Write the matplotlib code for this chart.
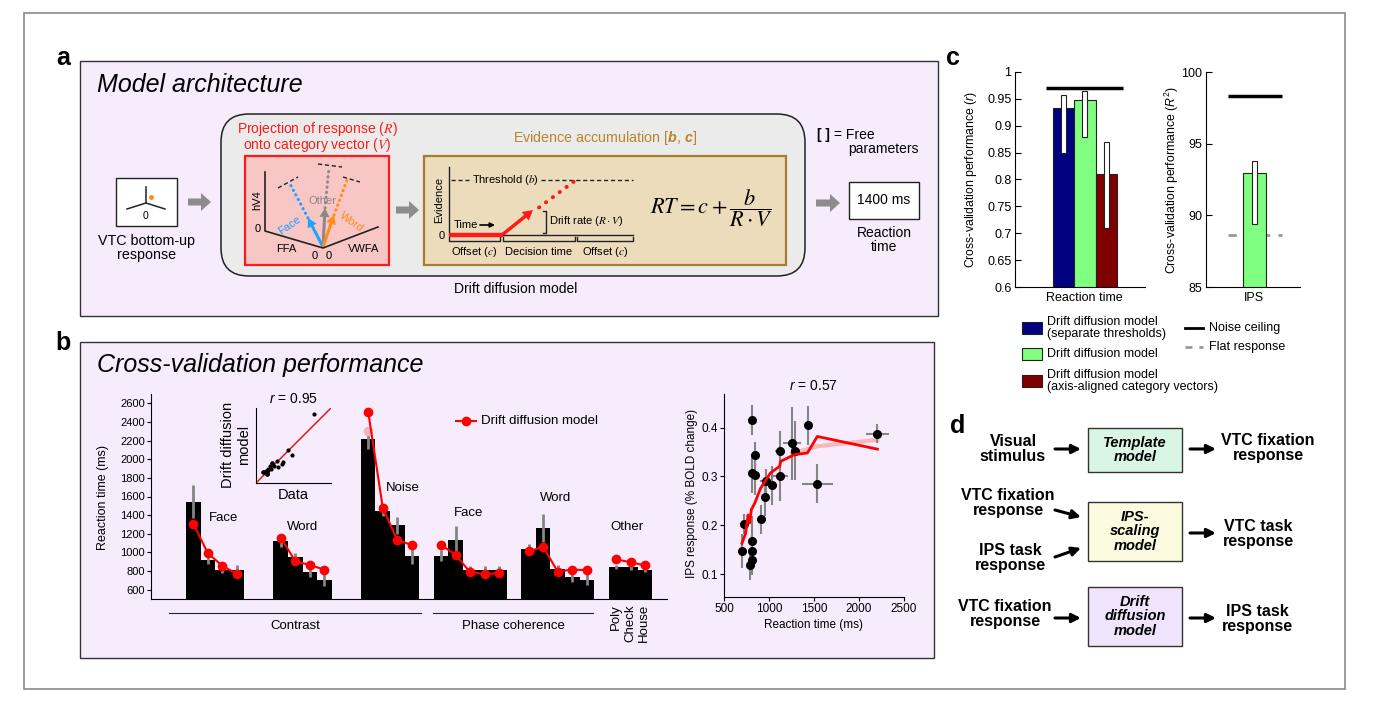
import matplotlib
matplotlib.use('Agg')
import matplotlib.pyplot as plt
from matplotlib.patches import FancyBboxPatch, Rectangle, FancyArrow
import numpy as np

plt.rcParams['font.family'] = ['Liberation Sans', 'DejaVu Sans']
plt.rcParams['mathtext.fontset'] = 'custom'
plt.rcParams['mathtext.rm'] = 'Liberation Sans'
plt.rcParams['mathtext.it'] = 'Liberation Sans:italic'
plt.rcParams['mathtext.bf'] = 'Liberation Sans:bold:italic'

# ---------------- data ----------------
rt_groups = ['Face', 'Word', 'Noise', 'Face', 'Word', 'Other']
rt_data = [[1545, 915, 815, 810], [1120, 950, 790, 705], [2215, 1440, 1290, 965],
           [965, 1135, 815, 810, 810], [1040, 1265, 820, 740, 705], [845, 840, 815]]
rt_err = [[175, 40, 40, 50], [60, 45, 50, 70], [110, 50, 90, 90],
          [60, 150, 35, 45, 45], [50, 150, 40, 60, 60], [20, 25, 30]]
rt_model = [[1310, 990, 855, 770], [1160, 905, 865, 815], [2510, 1480, 1130, 1080],
            [1080, 975, 785, 770, 775], [1010, 1060, 795, 815, 810], [925, 895, 860]]
noise_alt_model = [2300]
rt_ticks = [600, 800, 1000, 1200, 1400, 1600, 1800, 2000, 2200, 2400, 2600]
stim_labels = ['Poly', 'Check', 'House']

ips_rt = [700, 718, 785, 815, 815, 815, 811, 815, 841, 841, 915, 952, 963, 1037,
          1119, 1126, 1259, 1285, 1433, 1537, 2204]
ips_resp = [0.148, 0.203, 0.118, 0.129, 0.148, 0.168, 0.416, 0.307, 0.345, 0.303,
            0.212, 0.258, 0.290, 0.282, 0.353, 0.300, 0.368, 0.353, 0.405, 0.285, 0.388]
ips_rt_err = [20, 20, 15, 15, 15, 15, 15, 15, 15, 15, 20, 20, 60, 40,
              50, 90, 100, 30, 40, 170, 130]
ips_resp_err = [0.035, 0.02, 0.03, 0.03, 0.03, 0.05, 0.03, 0.04, 0.025, 0.04,
                0.03, 0.04, 0.025, 0.04, 0.04, 0.05, 0.075, 0.06, 0.04, 0.04, 0.02]
ddm_rt = [700, 741, 767, 785, 804, 841, 907, 1015, 1119, 1130, 1285, 1426, 1537, 2204]
ddm_ips = [0.163, 0.184, 0.221, 0.205, 0.232, 0.245, 0.276, 0.307, 0.321, 0.331,
           0.345, 0.348, 0.382, 0.356]
alt_rt = [1260, 1540, 2204]
alt_ips = [0.347, 0.362, 0.375]

perf_models = ['Drift diffusion model\n(separate thresholds)', 'Drift diffusion model',
               'Drift diffusion model\n(axis-aligned category vectors)']
perf_colors = ['#000080', '#80ff80', '#800000']
perf_r = [0.933, 0.9475, 0.810]
perf_r_lo = [0.850, 0.879, 0.709]
perf_r_hi = [0.958, 0.964, 0.870]
ceiling_r = 0.970
perf_ips = [92.97]
perf_ips_lo = [89.4]
perf_ips_hi = [93.8]
ceiling_ips = 98.3
flat_ips = 88.6

# ---------------- figure ----------------
W, H = 1388, 714
fig = plt.figure(figsize=(W / 100, H / 100), dpi=100)
cv = fig.add_axes([0, 0, 1, 1], zorder=0)
cv.set_xlim(0, W)
cv.set_ylim(H, 0)
cv.axis('off')

LAV = '#f6ecfc'


def ax_at(x0, y0, x1, y1):
    a = fig.add_axes([x0 / W, 1 - y1 / H, (x1 - x0) / W, (y1 - y0) / H], zorder=2)
    a.patch.set_alpha(0)
    return a


def T(x, y, s, **kw):
    kw.setdefault('ha', 'center')
    kw.setdefault('va', 'center')
    kw.setdefault('fontsize', 9)
    return cv.text(x, y, s, **kw)


def garrow(x0, x1, y):
    cv.add_patch(FancyArrow(x0, y, x1 - x0, 0, width=7, head_width=18, head_length=10,
                            length_includes_head=True, color='#8c8c8c', lw=0))


def barrow(p0, p1):
    cv.annotate('', xy=p1, xytext=p0,
                arrowprops=dict(arrowstyle='-|>', lw=2.2, color='black', mutation_scale=13,
                                shrinkA=0, shrinkB=0))


# outer frame
cv.add_patch(Rectangle((24, 13), 1321, 676, fill=False, ec='#8a8a8a', lw=1.2))

# ================= panel a =================
T(63, 58, 'a', fontsize=18, fontweight='bold')
cv.add_patch(Rectangle((80, 61), 858, 255, fc=LAV, ec='#333333', lw=1))
T(97, 85, 'Model architecture', ha='left', fontsize=18, style='italic')

# VTC icon
cv.add_patch(Rectangle((116, 178), 61, 48, fc='white', ec='#222222', lw=1))
cv.plot([146, 146], [187, 203], color='#222222', lw=1.1)
cv.plot([127, 146, 165], [209, 203, 209], color='#222222', lw=1.1)
cv.plot([151], [197], 'o', color='#ff8c1a', ms=2.5)
T(146, 216, '0', fontsize=7.5)
T(147, 241, 'VTC bottom-up', fontsize=10.3)
T(147, 255, 'response', fontsize=10.3)
garrow(188, 211, 202)

# rounded gray box
cv.add_patch(FancyBboxPatch((221, 114), 584, 162, boxstyle='round,pad=0,rounding_size=28',
                            fc='#ebebeb', ec='#222222', lw=1.1))
T(516, 289, 'Drift diffusion model', fontsize=10)

# projection box
T(317, 129, r'Projection of response ($R$)', color='#ff1a1a', fontsize=10, math_fontfamily='stix')
T(317, 145, r'onto category vector ($V$)', color='#ff1a1a', fontsize=10, math_fontfamily='stix')
cv.add_patch(Rectangle((245, 156), 144, 109, fc='#f9c6c6', ec='#ff1a1a', lw=1.6))
cv.plot([265, 265, 323, 378], [172, 231, 248, 227], color='#222222', lw=1.2)
T(257, 200, 'hV4', rotation=90, fontsize=8)
T(258, 229, '0', fontsize=8)
T(286, 249, 'FFA', fontsize=8)
T(315, 256, '0', fontsize=8)
T(329, 256, '0', fontsize=8)
T(364, 249, 'VWFA', fontsize=8)
O = (323, 247)
vec = [((308, 218), (289, 182), '#1aa3ff', [(278, 188), (298, 177)]),
       ((325, 208), (329, 167), '#8a8a8a', [(318, 164), (342, 167)]),
       ((334, 215), (347, 180), '#ff8c1a', [(343, 177), (360, 182)])]
for tip, far, col, dash in vec:
    cv.plot([tip[0], far[0]], [tip[1], far[1]], color=col, lw=2.2, ls=(0, (0.1, 1.6)),
            dash_capstyle='round')
    cv.plot([dash[0][0], dash[1][0]], [dash[0][1], dash[1][1]], color='#222222', lw=1, ls=(0, (3, 2)))
T(323, 201, 'Other', color='#8a8a8a', fontsize=8)
for tip, far, col, dash in vec:
    cv.add_patch(FancyArrow(O[0], O[1], tip[0] - O[0], tip[1] - O[1], width=3, head_width=10,
                            head_length=9, length_includes_head=True, color=col, lw=0))
T(290, 225, 'Face', color='#1aa3ff', fontsize=8, rotation=35)
T(352, 222, 'Word', color='#ff8c1a', fontsize=8, rotation=-35)

garrow(396, 419, 210)

# evidence box
T(605, 138, r'Evidence accumulation [$\mathbf{b}$, $\mathbf{c}$]', color='#b5872a', fontsize=10.3)
cv.add_patch(Rectangle((424, 156), 362, 109, fc='#ecdcbc', ec='#a67c2e', lw=1.6))
cv.plot([449, 449, 633], [167, 235, 235], color='#222222', lw=1)
cv.plot([451, 469], [180, 180], color='#222222', lw=1, ls=(0, (3, 2)))
cv.plot([541, 633], [180, 180], color='#222222', lw=1, ls=(0, (3, 2)))
T(505, 180, r'Threshold ($b$)', fontsize=8, math_fontfamily='stix')
T(439, 200, 'Evidence', rotation=90, fontsize=8)
T(442, 236, '0', fontsize=8)
T(466, 225, 'Time', fontsize=8)
cv.annotate('', xy=(495, 225), xytext=(480, 225),
            arrowprops=dict(arrowstyle='-|>', lw=1.2, color='black', mutation_scale=7,
                            shrinkA=0, shrinkB=0))
cv.plot([539, 576], [207.5, 180], color='#ff1a1a', lw=2.8, ls=(0, (0.1, 2.1)),
        dash_capstyle='round')
cv.plot([449, 503], [235, 235], color='#ff1a1a', lw=3.2, solid_capstyle='butt')
cv.add_patch(FancyArrow(502, 235, 31, -25, width=3.5, head_width=11, head_length=10,
                        length_includes_head=True, color='#ff1a1a', lw=0))
cv.plot([543, 546, 546, 543], [211, 211, 233, 233], color='#222222', lw=1)
T(549, 221, r'Drift rate ($R\cdot V$)', ha='left', fontsize=8, math_fontfamily='stix')
for x0, x1, lab in [(449, 500, r'Offset ($c$)'), (503, 575, 'Decision time'), (577, 633, r'Offset ($c$)')]:
    cv.plot([x0, x0, x1, x1], [237, 240.5, 240.5, 237], color='#222222', lw=1)
    T((x0 + x1) / 2, 252, lab, fontsize=8, math_fontfamily='stix')
T(712, 208, r'$RT = c + \dfrac{b}{R\cdot V}$', fontsize=16, math_fontfamily='stix')

T(817, 135, '[ ]', ha='left', fontsize=10, fontweight='bold')
T(834, 135, '= Free', ha='left', fontsize=10)
T(848, 149, 'parameters', ha='left', fontsize=10)
garrow(816, 840, 203)
cv.add_patch(Rectangle((849, 182), 70, 37, fc='white', ec='#222222', lw=1))
T(884, 200, '1400 ms', fontsize=10)
T(884, 233, 'Reaction', fontsize=10)
T(884, 247, 'time', fontsize=10)

# ================= panel b =================
T(63, 343, 'b', fontsize=18, fontweight='bold')
cv.add_patch(Rectangle((80, 342), 854, 316, fc=LAV, ec='#333333', lw=1))
T(97, 365, 'Cross-validation performance', ha='left', fontsize=18, style='italic')

axb = ax_at(151, 394, 667, 599)
gaps = [0, 2, 2, 1, 1, 1]
start = 0
all_data, all_model = [], []
for gi, (vals, errs, mods) in enumerate(zip(rt_data, rt_err, rt_model)):
    start += gaps[gi]
    xs = start + np.arange(len(vals)) + 0.5
    axb.bar(xs, vals, width=1.0, color='black', zorder=2)
    axb.errorbar(xs, vals, yerr=errs, fmt='none', ecolor='#858585', elinewidth=2, capsize=0, zorder=3)
    if gi == 2:
        axb.plot(xs[:1], noise_alt_model, 'o', color='#f6b4b4', ms=6, zorder=3.5)
    axb.plot(xs, mods, '-o', color='#ff0000', lw=1.5, ms=6, zorder=4)
    start += len(vals)
    all_data += vals
    all_model += mods
axb.set_xlim(-2.4, 33)
axb.set_ylim(500, 2700)
axb.set_yticks(rt_ticks)
axb.tick_params(axis='y', labelsize=8, length=3, width=0.8, pad=1.5)
axb.tick_params(axis='x', bottom=False, labelbottom=False)
for s in ['top', 'right']:
    axb.spines[s].set_visible(False)
for s in ['left', 'bottom']:
    axb.spines[s].set_linewidth(0.8)
T(103, 497, 'Reaction time (ms)', rotation=90, fontsize=9)
for (x, y), lab in zip([(224, 518), (303, 527), (403, 488), (469, 513), (556, 498), (627, 527)], rt_groups):
    T(x, y, lab, fontsize=9.5)
cv.plot([456, 476], [421, 421], color='#ff0000', lw=1.5)
cv.plot([466], [421], 'o', color='#ff0000', ms=6)
T(481, 421, 'Drift diffusion model', ha='left', fontsize=9.5)

cv.plot([169, 421], [613, 613], color='#222222', lw=0.8)
T(295, 626, 'Contrast', fontsize=9.5)
cv.plot([433, 593], [613, 613], color='#222222', lw=0.8)
T(513, 626, 'Phase coherence', fontsize=9.5)
for x, lab in zip([616, 630, 644], stim_labels):
    T(x, 604, lab, rotation=90, va='top', fontsize=9.5)

# inset
axi = ax_at(256, 408, 331, 483)
axi.plot([500, 2700], [500, 2700], color='#ff0000', lw=1)
axi.plot(all_data, all_model, 'o', color='black', ms=2)
axi.set_xlim(500, 2700)
axi.set_ylim(500, 2700)
axi.set_xticks([])
axi.set_yticks([])
for s in ['top', 'right']:
    axi.spines[s].set_visible(False)
for s in ['left', 'bottom']:
    axi.spines[s].set_linewidth(0.8)
T(293, 399, r'$r$ = 0.95', fontsize=10)
T(228, 445, 'Drift diffusion', rotation=90, fontsize=10.5)
T(244, 445, 'model', rotation=90, fontsize=10.5)
T(293, 495, 'Data', fontsize=10.5)

# IPS scatter
axs = ax_at(724, 394, 904, 597)
axs.plot(alt_rt, alt_ips, color='#f8b8b8', lw=3, zorder=1)
axs.errorbar(ips_rt, ips_resp, xerr=ips_rt_err, yerr=ips_resp_err, fmt='o', color='black',
             ecolor='#858585', elinewidth=1.5, capsize=0, ms=5.5, zorder=2)
axs.plot(ddm_rt, ddm_ips, color='#ff0000', lw=2, zorder=3)
axs.set_xlim(500, 2500)
axs.set_ylim(0.053, 0.469)
axs.set_xticks([500, 1000, 1500, 2000, 2500])
axs.set_yticks([0.1, 0.2, 0.3, 0.4])
axs.tick_params(labelsize=8.5, length=3, width=0.8, pad=1.5)
for s in ['top', 'right']:
    axs.spines[s].set_visible(False)
for s in ['left', 'bottom']:
    axs.spines[s].set_linewidth(0.8)
T(813, 386, r'$r$ = 0.57', fontsize=10)
T(692, 493, 'IPS response (% BOLD change)', rotation=90, fontsize=8.5)
T(814, 625, 'Reaction time (ms)', fontsize=8.5)

# ================= panel c =================
T(953, 58, 'c', fontsize=18, fontweight='bold')
axc1 = ax_at(1015, 72, 1145, 287)
xs = np.arange(len(perf_r))
axc1.bar(xs, perf_r, width=1.0, color=perf_colors, edgecolor='#222222', lw=0.8, zorder=2)
axc1.bar(xs, np.array(perf_r_hi) - np.array(perf_r_lo), bottom=perf_r_lo, width=0.24,
         color='white', edgecolor='#222222', lw=0.8, zorder=3)
axc1.hlines(ceiling_r, -0.83, 2.77, color='black', lw=2.5, zorder=4)
axc1.set_xlim(-2.28, 3.82)
axc1.set_ylim(0.6, 1.0)
ct = np.round(np.arange(0.6, 1.0001, 0.05), 2)
axc1.set_yticks(ct)
axc1.set_yticklabels(['%g' % v for v in ct])
axc1.tick_params(axis='y', labelsize=9, length=4, width=0.8, pad=2.5, direction='in')
axc1.tick_params(axis='x', bottom=False, labelbottom=False)
for s in ['top', 'right']:
    axc1.spines[s].set_visible(False)
T(1084, 298, 'Reaction time', fontsize=9)
T(971, 180, r'Cross-validation performance ($r$)', rotation=90, fontsize=8.8)

axc2 = ax_at(1206, 72, 1300, 287)
axc2.bar([0], perf_ips, width=1.0, color=perf_colors[1], edgecolor='#222222', lw=0.8, zorder=2)
axc2.bar([0], np.array(perf_ips_hi) - np.array(perf_ips_lo), bottom=perf_ips_lo, width=0.24,
         color='white', edgecolor='#222222', lw=0.8, zorder=3)
axc2.hlines(ceiling_ips, -1.15, 1.2, color='black', lw=2.5, zorder=4)
axc2.hlines(flat_ips, -1.15, 1.2, color='#999999', lw=2, ls=(0, (3, 3)), zorder=1)
axc2.set_xlim(-2.1, 1.98)
axc2.set_ylim(85, 100)
axc2.set_yticks([85, 90, 95, 100])
axc2.tick_params(axis='y', labelsize=9, length=4, width=0.8, pad=2.5, direction='in')
axc2.tick_params(axis='x', bottom=False, labelbottom=False)
for s in ['top', 'right']:
    axc2.spines[s].set_visible(False)
T(1254, 298, 'IPS', fontsize=9)
T(1172, 180, r'Cross-validation performance ($R^2$)', rotation=90, fontsize=8.8)

# legend c
for y, col, lab in zip([328, 354, 381], perf_colors, perf_models):
    cv.add_patch(Rectangle((1022, y - 6), 20, 12, fc=col, ec='#222222', lw=0.8))
    T(1047, y, lab, ha='left', fontsize=9, linespacing=1.0)
cv.plot([1185, 1203], [328, 328], color='black', lw=2)
T(1209, 328, 'Noise ceiling', ha='left', fontsize=9)
cv.plot([1185, 1203], [347, 347], color='#999999', lw=2, ls=(0, (2.5, 2.5)))
T(1209, 347, 'Flat response', ha='left', fontsize=9)

# ================= panel d =================
T(958, 426, 'd', fontsize=18, fontweight='bold')
boxes = [((1088, 428), 44, '#d9f5e3', 'Template\nmodel'),
         ((1088, 502), 59, '#fcfadf', 'IPS-\nscaling\nmodel'),
         ((1088, 587), 59, '#efe4fb', 'Drift\ndiffusion\nmodel')]
for (x, y), h, fc, lab in boxes:
    cv.add_patch(Rectangle((x, y), 94, h, fc=fc, ec='#333333', lw=1))
    T(x + 47, y + h / 2, lab, fontsize=10.5, fontweight='bold', style='italic', linespacing=1.05)
dl = dict(fontsize=11.5, fontweight='bold', linespacing=1.05)
T(1013, 449, 'Visual\nstimulus', **dl)
T(1268, 448, 'VTC fixation\nresponse', **dl)
T(1008, 503, 'VTC fixation\nresponse', **dl)
T(1010, 558, 'IPS task\nresponse', **dl)
T(1258, 534, 'VTC task\nresponse', **dl)
T(1005, 614, 'VTC fixation\nresponse', **dl)
T(1257, 619, 'IPS task\nresponse', **dl)
barrow((1055, 449), (1081, 449))
barrow((1190, 449), (1216, 449))
barrow((1055, 510), (1081, 517))
barrow((1055, 557), (1081, 548))
barrow((1190, 533), (1216, 533))
barrow((1055, 618), (1081, 618))
barrow((1190, 618), (1216, 618))

fig.savefig('out.png', dpi=100, facecolor='white')
